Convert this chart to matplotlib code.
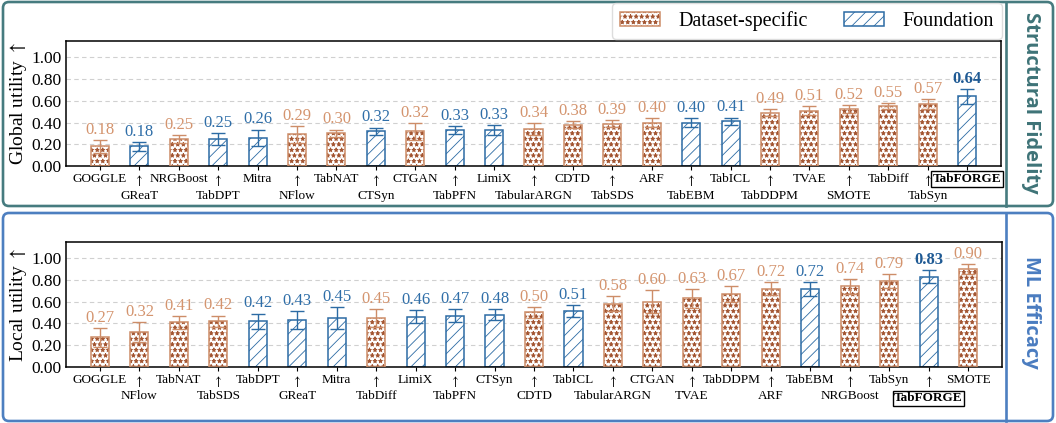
import numpy as np
import matplotlib.pyplot as plt
from matplotlib.patches import FancyBboxPatch, Patch
from matplotlib.legend_handler import HandlerTuple

plt.rcParams['font.family'] = ['Liberation Serif', 'DejaVu Serif']
plt.rcParams['mathtext.fontset'] = 'stix'
plt.rcParams['hatch.linewidth'] = 0.6

# Structural Fidelity panel (global utility)
global_names = ["GOGGLE", "GReaT", "NRGBoost", "TabDPT", "Mitra", "NFlow", "TabNAT",
                "CTSyn", "CTGAN", "TabPFN", "LimiX", "TabularARGN", "CDTD", "TabSDS",
                "ARF", "TabEBM", "TabICL", "TabDDPM", "TVAE", "SMOTE", "TabDiff",
                "TabSyn", "TabFORGE"]
global_vals = [0.18, 0.18, 0.25, 0.25, 0.26, 0.29, 0.30, 0.32, 0.32, 0.33, 0.33, 0.34,
               0.38, 0.39, 0.40, 0.40, 0.41, 0.49, 0.51, 0.52, 0.55, 0.57, 0.64]
global_errs = [0.06, 0.04, 0.035, 0.055, 0.075, 0.08, 0.035, 0.034, 0.077, 0.036, 0.048,
               0.057, 0.035, 0.03, 0.037, 0.04, 0.036, 0.03, 0.04, 0.037, 0.03, 0.048, 0.068]

# ML Efficacy panel (local utility)
local_names = ["GOGGLE", "NFlow", "TabNAT", "TabSDS", "TabDPT", "GReaT", "Mitra",
               "TabDiff", "LimiX", "TabPFN", "CTSyn", "CDTD", "TabICL", "TabularARGN",
               "CTGAN", "TVAE", "TabDDPM", "ARF", "TabEBM", "NRGBoost", "TabSyn",
               "TabFORGE", "SMOTE"]
local_vals = [0.27, 0.32, 0.41, 0.42, 0.42, 0.43, 0.45, 0.45, 0.46, 0.47, 0.48, 0.50,
              0.51, 0.58, 0.60, 0.63, 0.67, 0.72, 0.72, 0.74, 0.79, 0.83, 0.90]
local_errs = [0.085, 0.09, 0.06, 0.052, 0.07, 0.08, 0.1, 0.08, 0.06, 0.06, 0.05, 0.05,
              0.055, 0.068, 0.107, 0.086, 0.07, 0.058, 0.064, 0.069, 0.062, 0.062, 0.048]

foundation = ["GReaT", "TabDPT", "Mitra", "CTSyn", "TabPFN", "LimiX", "TabEBM",
              "TabICL", "TabFORGE"]
ours = "TabFORGE"
ARROW = r"$\uparrow$"

ORANGE = "#cd8d68"
STAR = "#a2532f"
ORANGE_TXT = "#d4946e"
BLUE = "#2c6ba4"
BLUE_TXT = "#2f6ea8"
TEAL = "#467b7f"
FRAME_BLUE = "#4d7fc0"

W, H = 1056, 423
fig = plt.figure(figsize=(W / 100, H / 100), dpi=100)

# background frames (pixel coords)
bg = fig.add_axes([0, 0, 1, 1], zorder=-1)
bg.set_xlim(0, W)
bg.set_ylim(H, 0)
bg.axis('off')
for (y0, y1, c) in [(2, 206, TEAL), (213, 421, FRAME_BLUE)]:
    bg.add_patch(FancyBboxPatch((3, y0), 1050, y1 - y0,
                                boxstyle="round,pad=0,rounding_size=6",
                                fill=False, ec=c, lw=1.9))
    bg.plot([1006, 1006], [y0, y1], color=c, lw=1.9)

fig.text(1031 / W, 1 - 103 / H, "Structural Fidelity", rotation=-90, ha='center',
         va='center', fontsize=14.5, fontweight='bold', family='Open Sans', color="#3e7377")
fig.text(1031 / W, 1 - 312 / H, "ML Efficacy", rotation=-90, ha='center',
         va='center', fontsize=14.5, fontweight='bold', family='Open Sans', color="#4a7cc0")


def draw_panel(ax, names, vals, errs, ylabel):
    x = np.arange(len(names))
    for i, (n, v, e) in enumerate(zip(names, vals, errs)):
        if n in foundation:
            ax.bar(i, v, 0.46, color='white', edgecolor=BLUE, hatch='///', lw=1.1, zorder=2)
            ec, tc = BLUE, BLUE_TXT
        else:
            ax.bar(i, v, 0.46, color='white', edgecolor=STAR, hatch='***', lw=0, zorder=2)
            ax.bar(i, v, 0.46, fill=False, edgecolor=ORANGE, lw=1.1, zorder=3)
            ec, tc = ORANGE, ORANGE_TXT
        ax.errorbar(i, v, yerr=e, fmt='none', ecolor=ec, elinewidth=1.0, capsize=5,
                    capthick=1.0, zorder=4)
        if n == ours:
            ax.text(i, v + e + 0.02, f"{v:.2f}", ha='center', va='bottom', fontsize=12,
                    color="#1f5a94", fontweight='bold')
        else:
            ax.text(i, v + e + 0.02, f"{v:.2f}", ha='center', va='bottom', fontsize=12,
                    color=tc)

    labels = []
    for i, n in enumerate(names):
        if i % 2 == 0:
            labels.append(n)
        elif n == ours:
            labels.append(ARROW)
        else:
            labels.append(ARROW + "\n" + n)
    ax.set_xticks(x)
    ax.set_xticklabels(labels, fontsize=9.5, linespacing=1.2)
    for i, lab in enumerate(ax.get_xticklabels()):
        if names[i] == ours and i % 2 == 0:
            lab.set_fontweight('bold')
            lab.set_bbox(dict(boxstyle='square,pad=0.12', fc='white', ec='black', lw=1))
        elif names[i] == ours:
            ax.annotate(ours, xy=(i, 0), xycoords=('data', 'axes fraction'),
                        xytext=(0, -18.5), textcoords='offset points', ha='center',
                        va='top', fontsize=9.5, fontweight='bold',
                        bbox=dict(boxstyle='square,pad=0.12', fc='white', ec='black', lw=1),
                        annotation_clip=False)
    ax.tick_params(axis='x', length=3, pad=2)
    ax.tick_params(axis='y', length=0, pad=3, labelsize=12.5)
    ax.set_xlim(-0.86, len(names) - 1 + 0.86)
    ax.set_ylim(0, 1.15)
    ax.set_yticks(np.arange(0, 1.01, 0.2))
    ax.set_yticklabels([f"{t:.2f}" for t in np.arange(0, 1.01, 0.2)])
    ax.yaxis.grid(True, ls=(0, (4, 3)), color='#d0d0d0', lw=0.8)
    ax.set_axisbelow(True)
    for s in ax.spines.values():
        s.set_linewidth(1.1)
    ax.set_ylabel(ylabel, fontsize=14)
    ax.yaxis.set_label_coords(-0.0396, 0.5)


ax1 = fig.add_axes([66 / W, 1 - 166 / H, 935 / W, 125 / H])
draw_panel(ax1, global_names, global_vals, global_errs, "Global utility " + ARROW)
ax2 = fig.add_axes([66 / W, 1 - 366.7 / H, 936 / W, 124.7 / H])
draw_panel(ax2, local_names, local_vals, local_errs, "Local utility " + ARROW)

h_star = Patch(facecolor='white', edgecolor=STAR, hatch='***', lw=0)
h_edge = Patch(fill=False, edgecolor=ORANGE, lw=1.1)
h_blue = Patch(facecolor='white', edgecolor=BLUE, hatch='///', lw=1.1)
fig.legend(handles=[(h_star, h_edge), h_blue], labels=["Dataset-specific", "Foundation"],
           handler_map={tuple: HandlerTuple(ndivide=1)},
           loc='upper right', bbox_to_anchor=(1002 / W, 1 - 3 / H), ncol=2, fontsize=14.5,
           frameon=True, edgecolor='#dddddd', framealpha=1, handlelength=2.0,
           handleheight=0.7, columnspacing=1.8, handletextpad=0.9, borderaxespad=0,
           borderpad=0.4)

fig.savefig("out.png", dpi=100)
